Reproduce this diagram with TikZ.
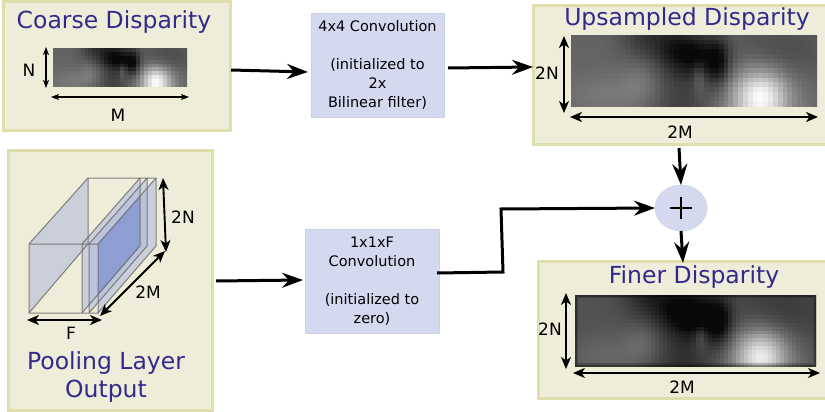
\documentclass[tikz,border=0pt]{standalone}
\usepackage{fontspec}
\setmainfont{DejaVu Sans}
\usetikzlibrary{arrows.meta,calc,shapes.geometric}
\definecolor{panelfill}{HTML}{EEEDD9}
\definecolor{paneledge}{HTML}{DFDFAE}
\definecolor{boxfill}{HTML}{D5D9F0}
\definecolor{titleblue}{HTML}{33298C}
\definecolor{sheet}{HTML}{B4BBDA}
\definecolor{sheetcore}{HTML}{8E9DD2}
\tikzset{
  panel/.style={draw=paneledge,fill=panelfill,line width=3pt,anchor=north west,inner sep=0pt,outer sep=0pt},
  titletext/.style={text=titleblue,font=\fontsize{23.5}{28}\selectfont,inner sep=0pt},
  dimtext/.style={text=black,font=\fontsize{17}{20}\selectfont,inner sep=0pt},
  opbox/.style={fill=boxfill,draw=boxfill!90!gray,line width=.4pt,anchor=north west,inner sep=0pt,outer sep=0pt,align=center,font=\fontsize{14.5}{19}\selectfont},
  flow/.style={line width=3pt,draw=black,-{Stealth[length=21pt,width=15pt,inset=7pt]}},
  dim/.style={line width=1.9pt,draw=black,{Stealth[length=12pt,width=10pt,inset=3.5pt]}-{Stealth[length=12pt,width=10pt,inset=3.5pt]}},
  dimsmall/.style={line width=1.1pt,draw=black,{Stealth[length=8pt,width=6pt,inset=2pt]}-{Stealth[length=8pt,width=6pt,inset=2pt]}},
  wall/.style={fill=sheet,fill opacity=.6},
  wire/.style={draw=gray!80!black,draw opacity=.8,line width=1pt},
}
\pgfmathdeclarefunction{bump}{6}{%
  \begingroup\pgfmathparse{exp(-((#1-#3)*#5)^2-((#2-#4)*#6)^2)}\pgfmathsmuggle\pgfmathresult\endgroup}
% #1 x0, #2 y0, #3 width, #4 height, #5 columns, #6 rows, #7 brightness offset
\newcommand{\disparityimg}[7]{%
  \begin{scope}
    \clip (#1,#2) rectangle ++(#3,#4);
    \pgfmathsetmacro{\cw}{#3/#5}
    \pgfmathsetmacro{\ch}{#4/#6}
    \foreach \i in {1,...,#5}{%
      \foreach \j in {1,...,#6}{%
        \pgfmathsetmacro{\uu}{(\i-.5)/#5}
        \pgfmathsetmacro{\vv}{(\j-.5)/#6}
        \pgfmathsetmacro{\lum}{max(.03,min(1,.39+#7
          +.08*bump(\uu,\vv,.15,.85,5,3.3)
          +.07*bump(\uu,\vv,.28,.65,14,4)
          -.16*bump(\uu,\vv,.30,.0,10,3)
          -.22*bump(\uu,\vv,.42,.2,11,2.8)
          -.27*bump(\uu,\vv,.52,.3,11,3)
          -.25*bump(\uu,\vv,.60,.4,20,3)
          -.14*bump(\uu,\vv,.45,1,8,2)
          +.13*bump(\uu,\vv,.52,.6,40,5)
          -.10*bump(\uu,\vv,.85,.25,5,2.2)
          +.24*bump(\uu,\vv,.77,.95,6.5,2)
          +.38*bump(\uu,\vv,.77,.85,10,2.8)))}
        \definecolor{cellc}{gray}{\lum}
        \fill[cellc] ({#1+(\i-1)*\cw},{#2+(\j-1)*\ch}) rectangle ++({\cw+1},{\ch+1});
      }}
  \end{scope}}
\begin{document}
\begin{tikzpicture}[x=1pt,y=-1pt]
\useasboundingbox (0,0) rectangle (825,412);
% panels
\node[panel,minimum width=227pt,minimum height=128pt] (coarse) at (3,2) {};
\node[panel,minimum width=300pt,minimum height=138pt] (upsampled) at (533,6) {};
\node[panel,minimum width=300pt,minimum height=137pt] (finer) at (538,261) {};
\node[panel,minimum width=204pt,minimum height=260pt] (pooling) at (8,150) {};
% titles
\node[titletext] (t1) at (114,22) {Coarse Disparity};
\node[titletext] (t2) at (687,19) {Upsampled Disparity};
\node[titletext] (t3) at (694,277) {Finer Disparity};
\node[titletext] (t4) at (106,363) {Pooling Layer};
\node[titletext] (t5) at (106,391) {Output};
% images
\disparityimg{53}{48}{134}{39}{34}{10}{0}
\disparityimg{571}{35}{246}{71}{50}{15}{0}
\disparityimg{575}{295}{241}{71}{60}{18}{-.07}
\begin{scope}
  \clip (575,295) rectangle (816,366);
  \draw[black,opacity=.2,line width=6pt] (575,295) rectangle (816,366);
  \draw[black,opacity=.3,line width=3pt] (575,295) rectangle (816,366);
\end{scope}
% coarse dims
\coordinate (na) at (46,47); \coordinate (nb) at (46,88);
\coordinate (ma) at (51,97); \coordinate (mb) at (189,97);
\draw[dimsmall] (na) -- (nb);
\draw[dimsmall] (ma) -- (mb);
\node[dimtext] (nl) at (29,70) {N};
\node[dimtext] (ml) at (118,115) {M};
% upsampled dims
\coordinate (ua) at (564,36); \coordinate (ub) at (564,113);
\coordinate (uc) at (570,117); \coordinate (ud) at (818,117);
\draw[dim] (ua) -- (ub);
\draw[dim] (uc) -- (ud);
\node[dimtext] (ul1) at (547,73) {2N};
\node[dimtext] (ul2) at (680,132) {2M};
% finer dims
\coordinate (fa) at (566,293); \coordinate (fb) at (566,369);
\coordinate (fc) at (573,373); \coordinate (fd) at (820,373);
\draw[dim] (fa) -- (fb);
\draw[dim] (fc) -- (fd);
\node[dimtext] (fl1) at (550,329) {2N};
\node[dimtext] (fl2) at (682,387) {2M};
% pooling block
\fill[wall] (29,244) -- (88,178) -- (88,244) -- (29,313) -- cycle;
\fill[wall] (82,313) -- (140,246) -- (140,178) -- (82,244) -- cycle;
\fill[wall] (89,313) -- (147,246) -- (147,178) -- (89,244) -- cycle;
\fill[wall] (98,313) -- (156,246) -- (156,178) -- (98,244) -- cycle;
\fill[sheetcore] (98,244) -- (140,196) -- (140,246) -- (98,295) -- cycle;
\draw[wire] (29,244) -- (88,178) -- (156,178) (29,244) -- (98,244) -- (98,313) -- (29,313) -- cycle;
\draw[wire] (88,178) -- (88,244) (29,313) -- (88,244);
\draw[wire] (82,313) -- (140,246) -- (140,178) (82,244) -- (82,313);
\draw[wire] (89,313) -- (147,246) -- (147,178) (89,244) -- (89,313);
\draw[wire] (98,313) -- (156,246) -- (156,178) (98,244) -- (156,178) (82,244) -- (140,178) (89,244) -- (147,178);
\coordinate (pa) at (163,178); \coordinate (pb) at (166,252);
\coordinate (pc) at (100,316); \coordinate (pd) at (165,251);
\coordinate (pe) at (27,320); \coordinate (pf) at (102,320);
\draw[dim] (pa) -- (pb);
\draw[dim] (pc) -- (pd);
\draw[dim] (pe) -- (pf);
\node[dimtext] (pl1) at (183,217) {2N};
\node[dimtext] (pl2) at (148,292) {2M};
\node[dimtext] (pl3) at (71,333) {F};
% operation boxes
\node[opbox,minimum width=133pt,minimum height=104pt] (conv1) at (311,13) {4x4 Convolution\\\\(initialized to\\2x\\Bilinear filter)};
\node[opbox,minimum width=134pt,minimum height=104pt] (conv2) at (305,229) {1x1xF\\Convolution\\\\(initialized to\\zero)};
% plus
\node[ellipse,fill=boxfill,draw=boxfill!85!gray,line width=.4pt,minimum width=52pt,minimum height=46pt,inner sep=0pt,outer sep=0pt] (plus) at (681,208) {};
\draw[black,line width=2.6pt] (670,208) -- (692,208) (681,197) -- (681,219);
% connectors
\draw[flow] ([shift={(1,4)}]coarse.east) -- ([shift={(-3,7)}]conv1.west);
\draw[flow] ([shift={(4,3)}]conv1.east) -- ([shift={(0,-8)}]upsampled.west);
\draw[flow] ([shift={(4,1)}]pooling.east) -- ([shift={(-2,-1)}]conv2.west);
\draw[flow] ([shift={(-2,-8)}]conv2.east) -- (503,272) -- (501,209) -- (plus.west);
\draw[flow] ([shift={(-2,4)}]upsampled.south -| plus.north) -- (plus.north);
\draw[flow] (plus.south) -- ([shift={(2,2)}]finer.north -| plus.south);
\end{tikzpicture}
\end{document}
